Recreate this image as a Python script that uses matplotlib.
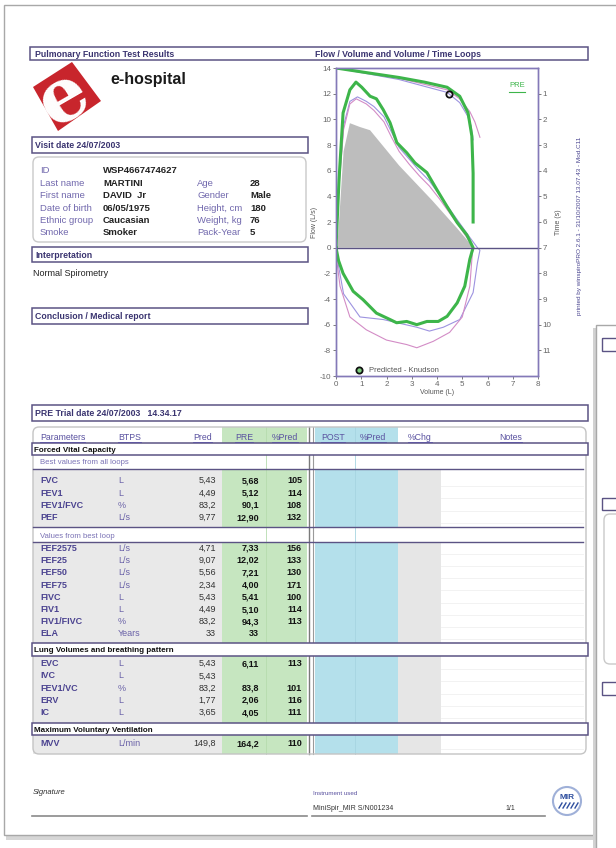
import matplotlib.pyplot as plt
from matplotlib.patches import Rectangle, FancyBboxPatch, Polygon, Circle

plt.rcParams['font.family'] = ['Liberation Sans', 'DejaVu Sans']
plt.rcParams['axes.unicode_minus'] = False

W, H = 616, 848

# ---- patient data
info_labels = ['ID', 'Last name', 'First name', 'Date of birth', 'Ethnic group', 'Smoke']
info_values = ['WSP4667474627', 'MARTINI', 'DAVID  Jr', '06/05/1975', 'Caucasian', 'Smoker']
info2_labels = ['', 'Age', 'Gender', 'Height, cm', 'Weight, kg', 'Pack-Year']
info2_values = ['', '28', 'Male', '180', '76', '5']

# ---- table data
params = ['FVC', 'FEV1', 'FEV1/FVC', 'PEF',
          'FEF2575', 'FEF25', 'FEF50', 'FEF75', 'FIVC', 'FIV1', 'FIV1/FIVC', 'ELA',
          'EVC', 'IVC', 'FEV1/VC', 'ERV', 'IC',
          'MVV']
units = ['L', 'L', '%', 'L/s',
         'L/s', 'L/s', 'L/s', 'L/s', 'L', 'L', '%', 'Years',
         'L', 'L', '%', 'L', 'L',
         'L/min']
pred = ['5,43', '4,49', '83,2', '9,77',
        '4,71', '9,07', '5,56', '2,34', '5,43', '4,49', '83,2', '33',
        '5,43', '5,43', '83,2', '1,77', '3,65',
        '149,8']
pre = ['5,68', '5,12', '90,1', '12,90',
       '7,33', '12,02', '7,21', '4,00', '5,41', '5,10', '94,3', '33',
       '6,11', '', '83,8', '2,06', '4,05',
       '164,2']
pct_pred = ['105', '114', '108', '132',
            '156', '133', '130', '171', '100', '114', '113', '',
            '113', '', '101', '116', '111',
            '110']
group_sizes = [4, 8, 5, 1]
headers = ['Parameters', 'BTPS', 'Pred', 'PRE', '%Pred', 'POST', '%Pred', '%Chg', 'Notes']

# ---- flow / volume curves (L, L/s)
gray_vol = [0.05, 0.12, 0.3, 0.55, 0.95, 1.35, 2.5, 3.8, 4.8, 5.45]
gray_flow = [0, 2.0, 7.5, 9.7, 9.4, 9.15, 6.4, 3.7, 1.5, 0]

pre_vol = [0, 0.12, 0.28, 0.55, 0.79, 1.02, 1.35, 1.6, 1.87, 2.14, 2.41, 2.8, 3.13, 3.6,
           4.0, 4.4, 4.8, 5.18, 5.43, 5.3, 5.1, 4.8, 4.4, 4.05, 3.6, 3.2, 2.8, 2.4, 2.14,
           1.6, 1.07, 0.68, 0.28, 0.1, 0]
pre_flow = [0, 5.3, 10.5, 12.3, 12.9, 12.5, 11.8, 11.6, 10.75, 9.74, 8.18, 7.4, 6.6, 5.85,
            4.5, 3.2, 1.95, 1.0, 0, -0.9, -3.0, -4.3, -5.35, -5.75, -5.75, -6.0, -5.75, -5.85, -5.6,
            -5.1, -4.05, -3.4, -2.0, -1.0, 0]

t2_vol = [0, 0.1, 0.3, 0.55, 0.85, 1.2, 1.5, 1.9, 2.2, 2.5, 2.9, 3.3, 3.7, 4.1, 4.5, 4.9,
          5.3, 5.6, 5.7, 5.6, 5.43, 4.9, 4.25, 3.7, 3.2, 1.87, 0.95, 0.3, 0.08, 0]
t2_flow = [0, 4.5, 9.5, 11.4, 11.75, 11.4, 11.0, 10.2, 9.0, 7.8, 6.9, 6.0, 5.2, 4.1, 3.0, 1.9,
           0.8, 0, -0.2, -1.2, -3.5, -5.6, -6.2, -6.5, -6.2, -5.6, -5.4, -3.6, -1.2, 0]

t3_vol = [0, 0.1, 0.3, 0.55, 0.8, 1.2, 1.5, 1.9, 2.2, 2.5, 2.9, 3.3, 3.7, 4.1, 4.5, 4.9,
          5.25, 5.45, 5.4, 5.3, 5.0, 4.5, 3.85, 3.2, 2.8, 2.0, 1.2, 0.55, 0.16, 0.03, 0]
t3_flow = [0, 4.2, 9.2, 11.2, 11.6, 11.2, 10.7, 9.8, 8.6, 7.5, 6.5, 5.6, 4.8, 3.8, 2.7, 1.6,
           0.6, 0, -0.4, -3.0, -5.4, -6.6, -7.3, -7.8, -7.55, -7.2, -6.4, -5.4, -3.0, -1.0, 0]

# ---- volume / time curves (L, s)
pre_vt_vol = [0, 1.0, 2.5, 3.5, 4.4, 4.9, 5.23, 5.38, 5.43, 5.43]
pre_vt_time = [0, 0.15, 0.37, 0.55, 0.75, 1.1, 1.75, 2.65, 4.1, 6.0]
t2_vt_vol = [0, 2.5, 4.4, 4.9, 5.2, 5.35, 5.43]
t2_vt_time = [0, 0.45, 0.95, 1.35, 1.85, 2.25, 2.8]
t3_vt_vol = [0, 2.5, 4.4, 4.9, 5.3, 5.5, 5.7]
t3_vt_time = [0, 0.4, 0.85, 1.2, 1.7, 2.1, 2.7]
pred_fev1_vol, pred_fev1_time = 4.49, 1.0

PURPLE = '#5b5384'
LAV = '#7168ad'
NAVY = '#3a3470'
GREEN = '#3db54a'

fig = plt.figure(figsize=(W / 100, H / 100), dpi=100)
bg = fig.add_axes([0, 0, 1, 1])
bg.set_xlim(0, W)
bg.set_ylim(H, 0)
bg.axis('off')


def box(x0, y0, x1, y1, ec=PURPLE, fc='white', lw=1.1, z=3):
    bg.add_patch(Rectangle((x0, y0), x1 - x0, y1 - y0, ec=ec, fc=fc, lw=lw, zorder=z))


def rbox(x0, y0, x1, y1, ec='#c9c9c9', fc='none', lw=1, z=2, r=6):
    bg.add_patch(FancyBboxPatch((x0, y0), x1 - x0, y1 - y0,
                                boxstyle=f'round,pad=0,rounding_size={r}',
                                ec=ec, fc=fc, lw=lw, zorder=z))


def txt(x, y, s, size=6, color='#222', weight='normal', ha='left', **kw):
    # y is the visual middle of the capitals; place on a shared baseline
    base = y + 0.36 * size * 100 / 72
    return bg.text(x, base, s, fontsize=size, color=color, fontweight=weight, ha=ha,
                   va='baseline', zorder=6, **kw)


# page + shadow
bg.add_patch(Rectangle((6, 9), 640, 831, fc='#d6d6d6', ec='none', zorder=0))
bg.add_patch(Rectangle((4, 5), 640, 830, fc='white', ec='#a8a8a8', lw=1, zorder=1))

# header
box(30, 47, 588, 60)
txt(35, 53.5, 'Pulmonary Function Test Results', 6.3, NAVY, 'bold')
txt(315, 53.5, 'Flow / Volume and Volume / Time Loops', 6.3, NAVY, 'bold')

# logo
bg.add_patch(Polygon([(33, 87), (72, 62), (101, 101), (58, 131)], closed=True,
                     fc='#c8252c', ec='none', zorder=3))
bg.text(64, 98, 'e', fontsize=54, color='white', family='DejaVu Serif',
        fontweight='bold', rotation=30, ha='center', va='center', zorder=4)
txt(110, 78, 'e-hospital', 11.5, '#1a1a1a', 'bold')

# visit + patient
box(32, 137, 308, 153)
txt(35, 145, 'Visit date 24/07/2003', 6.3, NAVY, 'bold')
rbox(33, 157, 306, 242)
for i in range(len(info_labels)):
    y = 170 + i * 12.4
    txt(40, y, info_labels[i], 6.8, LAV)
    txt(103, y, info_values[i], 6.8, '#222', 'semibold')
    if info2_labels[i]:
        txt(197, y, info2_labels[i], 6.8, LAV)
        txt(250, y, info2_values[i], 6.8, '#222', 'semibold')

box(32, 247, 308, 262)
txt(35, 254.5, 'Interpretation', 6.3, NAVY, 'bold')
txt(33, 273, 'Normal Spirometry', 6.5, '#222')
box(32, 308, 308, 324)
txt(35, 316, 'Conclusion / Medical report', 6.3, NAVY, 'bold')

bg.text(580, 226, 'printed by winspiroPRO 2.6.1 - 31/10/2007 13.07.43 - Mod.C11',
        fontsize=4.6, color='#4a4590', rotation=90, ha='center', va='center', zorder=6)

# ---- chart
ax = fig.add_axes([336 / W, 1 - 376 / H, 202 / W, 308 / H])
ax.set_xlim(0, 8)
ax.set_ylim(-10, 14)
ax.fill(gray_vol, gray_flow, color='#bdbdbd', lw=0, zorder=1)
ax.plot(t2_vol, t2_flow, color='#9d93e0', lw=0.8, zorder=2)
ax.plot(t3_vol, t3_flow, color='#d38cc6', lw=0.8, zorder=2)
ax.plot(pre_vol, pre_flow, color=GREEN, lw=2.2, zorder=3)
ax.axhline(0, color=PURPLE, lw=1, zorder=4)
ax.set_yticks(range(-10, 15, 2))
ax.set_xticks(range(0, 9))
ax.set_ylabel('Flow (L/s)', fontsize=5, color='#555', labelpad=1)
ax.set_xlabel('Volume (L)', fontsize=5, color='#555', labelpad=0.5)
ax.plot(0.92, -9.55, 'o', mfc='#7fcf7f', mec='#111', mew=1.3, ms=4.5, zorder=5)
ax.text(1.3, -9.55, 'Predicted - Knudson', fontsize=5.5, color='#555', va='center')
ax.text(7.17, 12.6, 'PRE', fontsize=5.5, color=GREEN, ha='center', va='center')
ax.plot([6.85, 7.5], [12.15, 12.15], color=GREEN, lw=0.8)

tx = ax.twinx()
tx.set_ylim(12, 0)
tx.set_yticks(range(1, 12))
tx.plot(t2_vt_vol, t2_vt_time, color='#9d93e0', lw=0.8)
tx.plot(t3_vt_vol, t3_vt_time, color='#d38cc6', lw=0.8)
tx.plot(pre_vt_vol, pre_vt_time, color=GREEN, lw=2.2)
tx.plot(pred_fev1_vol, pred_fev1_time, 'o', mfc='none', mec='#111', mew=1.3, ms=4.5)
tx.set_ylabel('Time (s)', fontsize=5, color='#555', labelpad=2)
for a in (ax, tx):
    a.tick_params(labelsize=5.8, colors='#666', length=2, width=0.6, pad=1.5)
    for s in a.spines.values():
        s.set_color('#8479b8')
        s.set_linewidth(1)

# ---- table
box(32, 405, 588, 421)
txt(35, 413, 'PRE Trial date 24/07/2003   14.34.17', 6.3, NAVY, 'bold')
top, bottom = 427, 754
bg.add_patch(Rectangle((33, 443), 189, bottom - 443, fc='#e9e9e9', ec='none', zorder=1.5))
bg.add_patch(Rectangle((222, top), 85, bottom - top, fc='#c6e6c0', ec='none', zorder=1.5))
bg.add_patch(Rectangle((315, top), 83, bottom - top, fc='#b4e0eb', ec='none', zorder=1.5))
bg.add_patch(Rectangle((398, 469), 43, bottom - 469, fc='#e6e6e6', ec='none', zorder=1.5))
for y0, y1 in ((455, 469), (527, 542)):
    bg.add_patch(Rectangle((33, y0), 550, y1 - y0, fc='white', ec='none', zorder=1.6))
bg.plot([266, 266], [top, bottom], color='#b6dcae', lw=0.6, zorder=1.7)
bg.plot([355, 355], [top, bottom], color='#a6d5e1', lw=0.6, zorder=1.7)
bg.plot([309, 309], [top, bottom], color='#7a7a7a', lw=1, zorder=1.7)
bg.plot([312.5, 312.5], [top, bottom], color='#9a9a9a', lw=0.8, zorder=1.7)
rbox(33, top, 586, bottom, ec='#c4c4c4', lw=1, z=2)

head_x = [40, 118, 212, 253, 298, 345, 386, 432, 511]
head_ha = ['left', 'left', 'right', 'right', 'right', 'right', 'right', 'right', 'center']
fig.canvas.draw()
rend = fig.canvas.get_renderer()
inv = bg.transData.inverted()
for h, x, ha in zip(headers, head_x, head_ha):
    t = txt(x, 436.5, h, 6.3, '#5a52a0', ha=ha)
    bb = t.get_window_extent(rend).transformed(inv)
    bg.plot([bb.x0, bb.x1], [441.5, 441.5], color='#5a52a0', lw=0.6, zorder=6)

for yy in (469, 527, 542):
    bg.plot([33, 583], [yy, yy], color=PURPLE, lw=1, zorder=3)
txt(40, 461, 'Best values from all loops', 5.6, '#7a72b5')
txt(40, 535, 'Values from best loop', 5.6, '#7a72b5')

sec_boxes = [(443, 455, 'Forced Vital Capacity'),
             (643, 656, 'Lung Volumes and breathing pattern'),
             (723, 735, 'Maximum Voluntary Ventilation')]
for y0, y1, s in sec_boxes:
    box(32, y0, 588, y1)
    txt(34, (y0 + y1) / 2, s, 5.8, '#111', 'bold')

starts = [480, 547.5, 663, 743]
row_y = []
for st, n in zip(starts, group_sizes):
    row_y += [st + k * 12.25 for k in range(n)]
for i, y in enumerate(row_y):
    txt(40, y, params[i], 6.5, '#4b4390', 'bold')
    txt(118, y, units[i], 6.5, '#6a62a8')
    txt(216, y, pred[i], 6.5, '#333', ha='right')
    txt(259, y, pre[i], 6.5, '#111', 'bold', ha='right')
    txt(302, y, pct_pred[i], 6.5, '#111', 'bold', ha='right')
    bg.plot([441, 583], [y + 6, y + 6], color='#f0f0f0', lw=0.6, zorder=1.7)

# ---- footer
txt(33, 791, 'Signature', 5.5, '#333', style='italic')
bg.plot([32, 307], [816, 816], color='#8a8a8a', lw=1.2, zorder=3)
txt(313, 793, 'Instrument used', 4.5, '#5a52a0')
txt(313, 808, 'MiniSpir_MIR S/N001234', 5, '#333')
txt(510, 808, '1/1', 5, '#333', ha='center')
bg.plot([312, 545], [816, 816], color='#8a8a8a', lw=1.2, zorder=3)
bg.add_patch(Circle((567, 801), 14, fc='white', ec='#9fb0d8', lw=1.5, zorder=3))
txt(567, 796, 'MIR', 6, '#2f4f9f', 'bold', ha='center')
for k in range(5):
    bg.plot([559 + k * 4, 562 + k * 4], [808, 803], color='#2f4f9f', lw=1, zorder=4)

# ---- second page behind on the right
bg.add_patch(Rectangle((593, 328), 40, 540, fc='#d2d2d2', ec='none', zorder=7))
bg.add_patch(Rectangle((596, 325), 40, 540, fc='white', ec='#a8a8a8', lw=1, zorder=8))
bg.add_patch(Rectangle((602, 338), 30, 13, fc='none', ec=PURPLE, lw=1, zorder=9))
bg.add_patch(Rectangle((602, 498), 30, 12, fc='none', ec=PURPLE, lw=1, zorder=9))
bg.add_patch(FancyBboxPatch((604, 514), 30, 150, boxstyle='round,pad=0,rounding_size=6',
                            fc='none', ec='#c9c9c9', lw=1, zorder=9))
bg.add_patch(Rectangle((602, 682), 30, 13, fc='none', ec=PURPLE, lw=1, zorder=9))

fig.savefig('out.png', dpi=100)
